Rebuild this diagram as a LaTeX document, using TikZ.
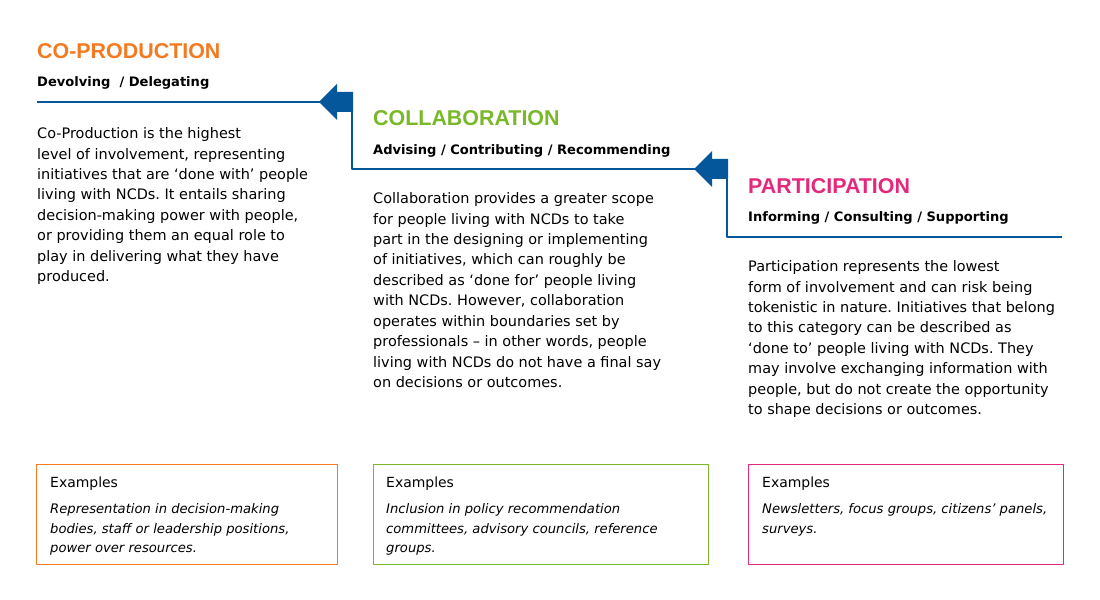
\documentclass[tikz,border=0pt]{standalone}
\usepackage{fontspec}
\setmainfont{DejaVu Sans}
\newfontfamily\headfont{Liberation Sans}
\definecolor{stageblue}{HTML}{05579B}
\definecolor{coprodorange}{HTML}{F37A21}
\definecolor{collabgreen}{HTML}{78B829}
\definecolor{particpink}{HTML}{E4287C}
\frenchspacing
\begin{document}
\begin{tikzpicture}[>=latex,line join=bevel,
  stagetitle/.style={anchor=base west,inner sep=0pt,font=\headfont\fontsize{21.5}{24}\bfseries\selectfont},
  stagesub/.style={anchor=base west,inner sep=0pt,font=\fontsize{13.1}{16}\bfseries\selectfont},
  stagebody/.style={anchor=north west,inner sep=0pt,align=left,font=\fontsize{14.5}{20.5}\selectfont},
  exbox/.style={anchor=north west,inner sep=0pt,line width=1.2bp,minimum height=100bp},
  exhead/.style={anchor=base west,inner sep=0pt,font=\fontsize{14}{16}\selectfont},
  extext/.style={anchor=north west,inner sep=0pt,align=left,font=\fontsize{13.2}{19.5}\itshape\selectfont},
  stepline/.style={draw=stageblue,line width=2bp},
  steparrow/.style={fill=stageblue},
]
\useasboundingbox (0bp,0bp) rectangle (1100bp,600bp);
\fill [white] (0bp,0bp) rectangle (1100bp,600bp);
%%
\node (title_coprod) at (37bp,541bp) [stagetitle,text=coprodorange] {CO-PRODUCTION};
  \node (sub_coprod) at (37bp,513bp) [stagesub] {Devolving\ \ / Delegating};
  \node (body_coprod) at (37bp,472.5bp) [stagebody] {Co-Production is the highest\\level of involvement, representing\\initiatives that are ‘done with’ people\\living with NCDs. It entails sharing\\decision-making power with people,\\or providing them an equal role to\\play in delivering what they have\\produced.};
  \node (title_collab) at (373bp,474bp) [stagetitle,text=collabgreen] {COLLABORATION};
  \node (sub_collab) at (373bp,445bp) [stagesub] {Advising / Contributing / Recommending};
  \node (body_collab) at (373bp,407.5bp) [stagebody] {Collaboration provides a greater scope\\for people living with NCDs to take\\part in the designing or implementing\\of initiatives, which can roughly be\\described as ‘done for’ people living\\with NCDs. However, collaboration\\operates within boundaries set by\\professionals – in other words, people\\living with NCDs do not have a final say\\on decisions or outcomes.};
  \node (title_partic) at (748bp,406bp) [stagetitle,text=particpink] {PARTICIPATION};
  \node (sub_partic) at (748bp,378bp) [stagesub] {Informing / Consulting / Supporting};
  \node (body_partic) at (748bp,339.5bp) [stagebody] {Participation represents the lowest\\form of involvement and can risk being\\tokenistic in nature. Initiatives that belong\\to this category can be described as\\‘done to’ people living with NCDs. They\\may involve exchanging information with\\people, but do not create the opportunity\\to shape decisions or outcomes.};
  \node (ex_coprod) at (36bp,136bp) [exbox,draw=coprodorange,minimum width=301bp] {};
  \node (exhead_coprod) at (50bp,112bp) [exhead] {Examples};
  \node (extext_coprod) at (50bp,96.5bp) [extext] {Representation in decision-making\\bodies, staff or leadership positions,\\power over resources.};
  \node (ex_collab) at (373bp,136bp) [exbox,draw=collabgreen,minimum width=335bp] {};
  \node (exhead_collab) at (386bp,112bp) [exhead] {Examples};
  \node (extext_collab) at (386bp,96.5bp) [extext] {Inclusion in policy recommendation\\committees, advisory councils, reference\\groups.};
  \node (ex_partic) at (748bp,136bp) [exbox,draw=particpink,minimum width=315bp] {};
  \node (exhead_partic) at (762bp,112bp) [exhead] {Examples};
  \node (extext_partic) at (762bp,96.5bp) [extext] {Newsletters, focus groups, citizens’ panels,\\surveys.};
  \coordinate (step_coprod) at (37bp,498bp);
  \coordinate (turn_collab) at (352bp,498bp);
  \coordinate (step_collab_in) at (352bp,431bp);
  \coordinate (turn_partic) at (727bp,431bp);
  \coordinate (step_partic_in) at (727bp,363bp);
  \coordinate (step_partic) at (1062bp,363bp);
  \draw [stepline] (step_coprod) -- (turn_collab) -- (step_collab_in) -- (turn_partic) -- (step_partic_in) -- (step_partic);
  \fill [steparrow] (turn_collab) ++(1bp,10bp) -- ++(-16bp,0bp) -- ++(0bp,8bp) -- ++(-18bp,-18bp) -- ++(18bp,-18bp) -- ++(0bp,8bp) -- ++(16bp,0bp) -- cycle;
  \fill [steparrow] (turn_partic) ++(1bp,10bp) -- ++(-16bp,0bp) -- ++(0bp,8bp) -- ++(-18bp,-18bp) -- ++(18bp,-18bp) -- ++(0bp,8bp) -- ++(16bp,0bp) -- cycle;
%
\end{tikzpicture}
\end{document}
